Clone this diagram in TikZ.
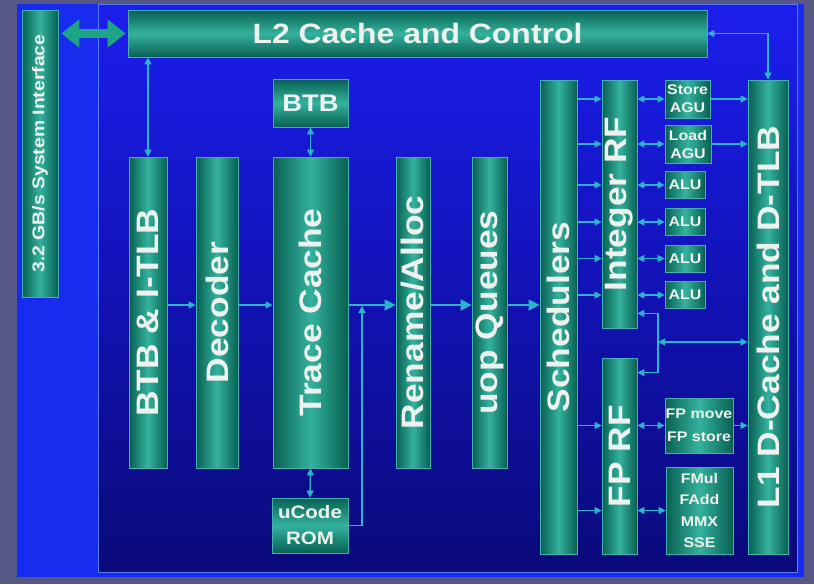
\documentclass[tikz,border=0pt]{standalone}
\usepackage{fontspec}
\newfontfamily\chipfont{Liberation Sans}[FakeStretch=1.14]
\usetikzlibrary{arrows.meta}

\definecolor{slidebg}{RGB}{88,88,134}
\definecolor{dieblue}{RGB}{24,44,240}
\definecolor{panelhi}{RGB}{28,30,238}
\definecolor{panelmid}{RGB}{18,18,182}
\definecolor{panello}{RGB}{10,10,122}
\definecolor{paneledge}{RGB}{90,120,250}
\definecolor{tealdk}{RGB}{8,96,82}
\definecolor{teallt}{RGB}{52,178,158}
\definecolor{tealedge}{RGB}{70,175,175}
\definecolor{wirec}{RGB}{45,180,205}
\definecolor{fatc}{RGB}{30,165,135}
\definecolor{labelc}{RGB}{238,242,238}

\tikzset{
	unit/.style={draw=tealedge, line width=0.7pt, left color=tealdk, right color=tealdk, middle color=teallt, text=labelc, inner sep=0pt, align=center},
	bar/.style={draw=tealedge, line width=0.7pt, top color=tealdk, bottom color=tealdk, middle color=teallt, text=labelc, inner sep=0pt, align=center},
	bigtext/.style={font=\chipfont\bfseries\fontsize{31}{31}\selectfont},
	smalltext/.style={font=\chipfont\bfseries\fontsize{14}{#1}\selectfont},
	wire/.style={draw=wirec, line width=1.3pt, -{Triangle[length=7pt,width=7pt]}},
	bigwire/.style={wire, -{Triangle[length=11pt,width=11pt]}},
	biwire/.style={wire, {Triangle[length=7pt,width=7pt]}-{Triangle[length=7pt,width=7pt]}},
	fatarrow/.style={draw=fatc, line width=9pt, {Triangle[length=18pt,width=27pt]}-{Triangle[length=18pt,width=27pt]}}
}

\begin{document}
\begin{tikzpicture}[x=1pt,y=-1pt]
		% Draw Background
		\useasboundingbox (0,0) rectangle (814,584);
		\fill[slidebg] (0,0) rectangle (814,584);
		\fill[dieblue] (17,4) rectangle (804,577);
		\shadedraw[top color=panelhi, bottom color=panello, middle color=panelmid, draw=paneledge, line width=0.6pt] (98,4) rectangle (797,572);

		% Draw Front End
		\node[unit, minimum width=36pt, minimum height=287pt, font=\chipfont\bfseries\fontsize{17}{17}\selectfont] (sysif) at (40,153.5) {\rotatebox{90}{3.2 GB/s System Interface}};
		\node[bar, minimum width=579pt, minimum height=47pt, font=\chipfont\bfseries\fontsize{28}{28}\selectfont] (l2) at (417.5,33.5) {L2 Cache and Control};
		\node[bar, minimum width=75pt, minimum height=48pt, font=\chipfont\bfseries\fontsize{24}{24}\selectfont] (btb) at (310.5,103) {BTB};
		\node[unit, bigtext, minimum width=38pt, minimum height=311pt] (itlb) at (148,312.5) {\rotatebox{90}{BTB \& I-TLB}};
		\node[unit, bigtext, minimum width=42pt, minimum height=311pt] (dec) at (217,312.5) {\rotatebox{90}{Decoder}};
		\node[unit, bigtext, minimum width=75pt, minimum height=311pt] (tc) at (310.5,312.5) {\rotatebox{90}{Trace Cache}};
		\node[bar, minimum width=76pt, minimum height=55pt, font=\chipfont\bfseries\fontsize{18}{26}\selectfont] (rom) at (310,525.5) {uCode\\ROM};
		\node[unit, bigtext, minimum width=34pt, minimum height=311pt] (rn) at (413,312.5) {\rotatebox{90}{Rename/Alloc}};
		\node[unit, bigtext, minimum width=35pt, minimum height=311pt] (uq) at (489.5,312.5) {\rotatebox{90}{uop Queues}};

		% Draw Back End
		\node[unit, bigtext, minimum width=37pt, minimum height=474pt] (sch) at (558.5,317) {\rotatebox{90}{Schedulers}};
		\node[unit, bigtext, minimum width=35pt, minimum height=248pt] (irf) at (619.5,204) {\rotatebox{90}{Integer RF}};
		\node[unit, bigtext, minimum width=35pt, minimum height=196pt] (fprf) at (619.5,456) {\rotatebox{90}{FP RF}};
		\node[unit, bigtext, minimum width=40pt, minimum height=474pt] (l1) at (768,317) {\rotatebox{90}{L1 D-Cache and D-TLB}};
		\node[unit, smalltext=18, minimum width=45pt, minimum height=38pt] (st) at (687.5,99) {Store\\AGU};
		\node[unit, smalltext=18, minimum width=46pt, minimum height=38pt] (ld) at (688,144) {Load\\AGU};
		\foreach \i/\y in {1/185,2/222,3/258.5,4/295}
			\node[unit, smalltext=18, minimum width=40pt, minimum height=27pt] (alu\i) at (685,\y) {ALU};
		\node[unit, smalltext=23, minimum width=68pt, minimum height=55pt] (fpmv) at (699,425.5) {FP move\\FP store};
		\node[unit, smalltext=21.5, minimum width=67pt, minimum height=87pt] (fmul) at (699.5,510.5) {FMul\\FAdd\\MMX\\SSE};

		% Draw Connections
		\draw[fatarrow, shorten <=3pt, shorten >=2pt] (sysif.east |- l2.west) -- (l2.west);
		\draw[biwire] (l2.south -| itlb) -- (itlb.north);
		\draw[biwire] (btb.south) -- (tc.north);
		\draw[biwire] (tc.south) -- (rom.north);
		\draw[biwire] (l2.east) -| (l1.north);

		\coordinate (flow) at (0,305);
		\coordinate (merge) at (362,306);
		\draw[wire] (itlb.east |- flow) -- (dec.west |- flow);
		\draw[wire] (dec.east |- flow) -- (tc.west |- flow);
		\draw[bigwire] (tc.east |- flow) -- (rn.west |- flow);
		\draw[wire] (rom.east) -| (merge);
		\draw[bigwire] (rn.east |- flow) -- (uq.west |- flow);
		\draw[bigwire] (uq.east |- flow) -- (sch.west |- flow);

		\foreach \u in {st,ld,alu1,alu2,alu3,alu4} {
			\draw[wire] (sch.east |- \u.west) -- (irf.west |- \u.west);
			\draw[biwire] (irf.east |- \u.west) -- (\u.west);
		}
		\foreach \u in {fpmv,fmul} {
			\draw[wire] (sch.east |- \u.west) -- (fprf.west |- \u.west);
			\draw[biwire] (fprf.east |- \u.west) -- (\u.west);
		}
		\foreach \u in {st,ld,fpmv}
			\draw[wire] (\u.east) -- (l1.west |- \u.east);

		\coordinate (bus) at (658,342);
		\draw[biwire] ([yshift=15pt]irf.south east) -| (bus) |- ([yshift=-15pt]fprf.north east);
		\draw[biwire] (bus) -- (l1.west |- bus);
	\end{tikzpicture}
\end{document}
